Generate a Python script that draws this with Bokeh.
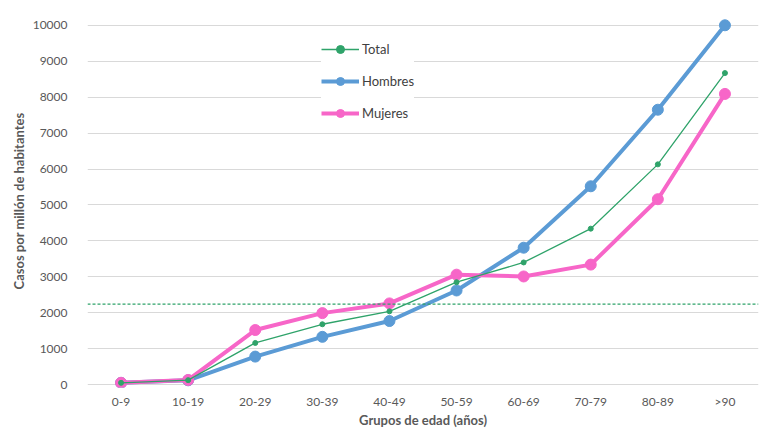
from bokeh.plotting import figure
from bokeh.models import ColumnDataSource, Legend, LegendItem, Span, FixedTicker, Range1d
from bokeh.embed import file_html
from bokeh.resources import INLINE

grupos = ["0-9", "10-19", "20-29", "30-39", "40-49", "50-59", "60-69", "70-79", "80-89", ">90"]
total = [50, 125, 1160, 1680, 2040, 2850, 3400, 4340, 6130, 8670]
hombres = [50, 120, 780, 1330, 1770, 2620, 3810, 5520, 7650, 10000]
mujeres = [50, 130, 1520, 1990, 2260, 3060, 3010, 3340, 5160, 8090]
media_total = 2240
y_ticks = list(range(0, 10001, 1000))
x_title = "Grupos de edad (años)"
y_title = "Casos por millón de habitantes"

FONT = "Lato"
C_TOTAL = "#2FA36A"
C_HOM = "#5B9BD5"
C_MUJ = "#F766C8"

W, H = 768, 430
ML, MR, MT, MB = 87, 10, 14, 30

src = ColumnDataSource(dict(g=grupos, t=total, h=hombres, m=mujeres))

p = figure(x_range=grupos, y_range=Range1d(-80, 10300), width=W, height=H,
           output_backend="svg", toolbar_location=None,
           min_border_left=ML, min_border_right=MR, min_border_top=MT, min_border_bottom=MB)
p.outline_line_color = None
p.background_fill_color = "white"
p.border_fill_color = "white"

p.xgrid.grid_line_color = None
p.ygrid.grid_line_color = "#D9D9D9"
p.ygrid.grid_line_width = 1
p.yaxis.ticker = FixedTicker(ticks=y_ticks)

for ax in (p.xaxis, p.yaxis):
    ax.axis_line_color = None
    ax.major_tick_line_color = None
    ax.minor_tick_line_color = None
    ax.major_tick_out = 0
    ax.major_tick_in = 0
    ax.minor_tick_out = 0
    ax.major_label_text_font = FONT
    ax.major_label_text_font_size = "12px"
    ax.major_label_text_color = "#595959"
    ax.axis_label_text_font = FONT
    ax.axis_label_text_font_size = "13px"
    ax.axis_label_text_color = "#595959"
    ax.axis_label_text_font_style = "bold"

p.yaxis.major_label_standoff = 20
p.xaxis.major_label_standoff = 6
p.yaxis.axis_label = y_title
p.yaxis.axis_label_standoff = 3
p.xaxis.axis_label = x_title
p.xaxis.axis_label_standoff = 0

span = Span(location=media_total, dimension="width", line_color=C_TOTAL,
            line_dash="3 2", line_width=1.2)
p.add_layout(span)

lh = p.line("g", "h", source=src, color=C_HOM, line_width=4)
ch = p.scatter("g", "h", source=src, color=C_HOM, size=11)
lm = p.line("g", "m", source=src, color=C_MUJ, line_width=4)
cm = p.scatter("g", "m", source=src, color=C_MUJ, size=11)
lt = p.line("g", "t", source=src, color=C_TOTAL, line_width=1.3)
ct = p.scatter("g", "t", source=src, color=C_TOTAL, size=5)

legend = Legend(items=[
    LegendItem(label="Total", renderers=[lt, ct]),
    LegendItem(label="Hombres", renderers=[lh, ch]),
    LegendItem(label="Mujeres", renderers=[lm, cm]),
], location=(234, 264))
legend.label_text_font = FONT
legend.label_text_font_size = "13px"
legend.label_text_color = "#404040"
legend.glyph_width = 38
legend.glyph_height = 20
legend.label_standoff = 3
legend.spacing = 12
legend.padding = 6
legend.border_line_color = None
legend.background_fill_color = "white"
legend.background_fill_alpha = 1
p.add_layout(legend)

open("out.html", "w").write(file_html(p, INLINE))
